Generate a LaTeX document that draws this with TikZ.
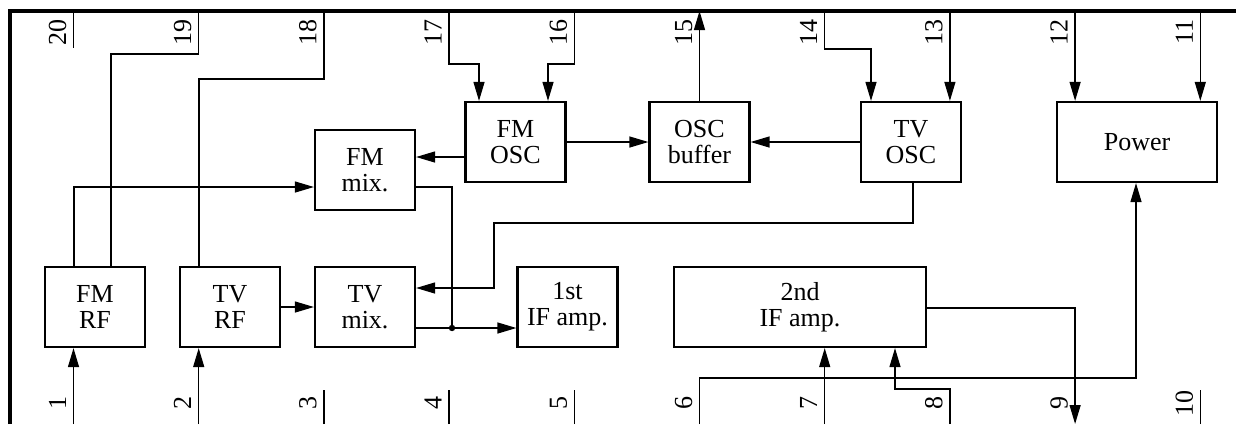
\documentclass[tikz,border=0pt]{standalone}
\usepackage{fontspec}
\setmainfont{Liberation Serif}
\usetikzlibrary{arrows.meta}
\tikzstyle{arrow} = [->, >={Triangle[length=9.5pt,width=5.5pt]}]

\begin{document}
\begin{tikzpicture}[x=0.5pt, y=-0.5pt, line width=0.65pt,
    every node/.style={font=\fontsize{13}{13}\selectfont},
    block/.style={draw, line width=1.1pt, minimum width=50pt, minimum height=40pt, align=center, inner sep=0pt},
    pinlabel/.style={rotate=90, anchor=base, inner sep=0pt},
    dot/.style={circle, fill, minimum size=3.2pt, inner sep=0pt}]
        \useasboundingbox (0,0) rectangle (1236,424);
        % Package outline
        \draw[line width=2.2pt] (10,424) -- (10,11) -- (1236,11);

        % Pins and their numbers
        \foreach \n [evaluate=\n as \px using {73.5+(20-\n)*125.2}] in {11,...,20}{
            \coordinate (t\n) at (\px,11);
            \node[pinlabel] (l\n) at (\px-7.5,32) {\n};
        }
        \foreach \n [evaluate=\n as \px using {73.5+(\n-1)*125.2}] in {1,...,10}{
            \coordinate (b\n) at (\px,424);
            \node[pinlabel] (l\n) at (\px-7.5,403) {\n};
        }

        % Node positions
        \node[block] (fmrf) at (95,307) {FM\\RF};
        \node[block] (tvrf) at (230,307) {TV\\RF};
        \node[block] (tvmix) at (365,307) {TV\\mix.};
        \node[block] (ifa) at (567.5,307) {1st\\IF amp.};
        \node[block, minimum width=126pt] (ifb) at (800,307) {2nd\\IF amp.};
        \node[block] (fmmix) at (365,170) {FM\\mix.};
        \node[block] (fmosc) at (515.5,142) {FM\\OSC};
        \node[block] (buf) at (699.5,142) {OSC\\buffer};
        \node[block] (tvosc) at (911,142) {TV\\OSC};
        \node[block, minimum width=80pt] (power) at (1137,142) {Power};
        \node[dot] (jn) at (452,328) {};

        % Unused pins
        \draw (t20) -- ++(0,37);
        \foreach \n in {3,4,5,10}
            \draw (b\n) -- ++(0,-34);

        % Connections
        \draw (t19) |- (111,54) -- (111,54 |- fmrf.north);
        \draw (t18) |- (199,79) -- (199,79 |- tvrf.north);
        \draw[arrow] (fmrf.north -| 74,0) |- (fmmix.west |- 0,187);
        \draw[arrow] (b1) -- (b1 |- fmrf.south);
        \draw[arrow] (b2) -- (b2 |- tvrf.south);
        \draw[arrow] (tvrf) -- (tvmix);
        \draw (fmmix.east |- 0,187) -| (jn.center);
        \draw[arrow] (tvmix.east |- jn) -- (ifa.west |- jn);
        \draw[arrow] (fmosc.west |- 0,157) -- (fmmix.east |- 0,157);
        \draw[arrow] (fmosc) -- (buf);
        \draw[arrow] (tvosc) -- (buf);
        \draw[arrow] (buf.north) -- (buf.north |- t15);
        \draw[arrow] (t17) |- (479,64) -- (479,64 |- fmosc.north);
        \draw[arrow] (t16) |- (548,64) -- (548,64 |- fmosc.north);
        \draw[arrow] (t14) |- (871,49) -- (871,49 |- tvosc.north);
        \draw[arrow] (t13) -- (t13 |- tvosc.north);
        \draw[arrow] (t12) -- (t12 |- power.north);
        \draw[arrow] (t11) -- (t11 |- power.north);
        \draw[arrow] (tvosc.south -| 913,0) |- (494,223) |- (tvmix.east |- 0,288);
        \draw[arrow] (b6) |- (1136,378) -- (1136,378 |- power.south);
        \draw[arrow] (b7) -- (b7 |- ifb.south);
        \draw[arrow] (b8) |- (895,389) -- (895,389 |- ifb.south);
        \draw[arrow] (ifb.east |- 0,308) -| (b9);

      \end{tikzpicture}
\end{document}
